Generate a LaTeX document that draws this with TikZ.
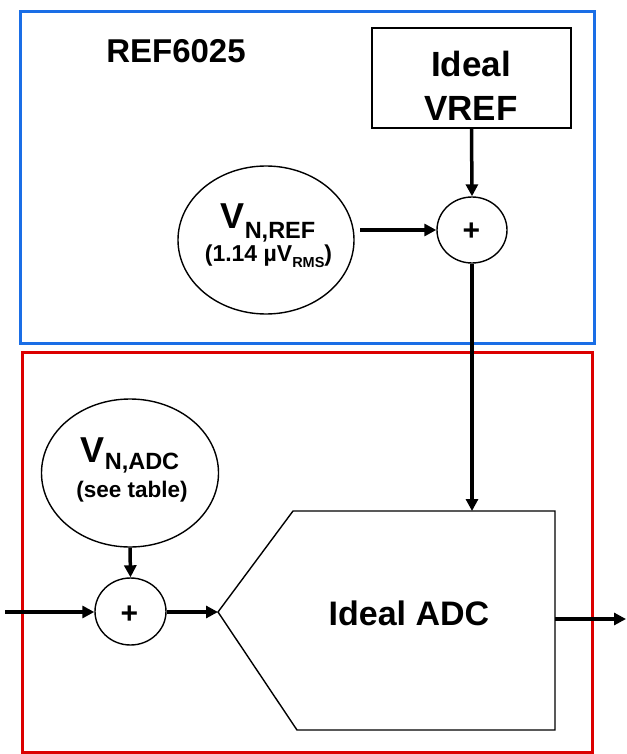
\documentclass[tikz,border=0pt]{standalone}
\usepackage{fontspec}
\setmainfont{Liberation Sans}
\usetikzlibrary{arrows.meta,shapes.geometric}
\definecolor{refblue}{RGB}{26,110,230}
\definecolor{adcred}{RGB}{220,0,0}
\tikzset{
  x=1pt,y=-1pt,
  thinline/.style={draw=black,line width=1.4pt},
  sig/.style={line width=3.5pt,-{Triangle[length=12pt,width=12pt]}},
  lbl/.style={inner sep=0pt,align=center,anchor=base},
}
\newcommand{\fs}[1]{\fontsize{#1}{#1}\bfseries\selectfont}
\begin{document}
\begin{tikzpicture}
\useasboundingbox (0,0) rectangle (626,754);
% group boxes
\draw[refblue,line width=3pt] (20,12) rectangle (594,343);
\draw[adcred,line width=3pt] (22,352) rectangle (592,752);
\node[lbl,font=\fs{33}] (title) at (176,63) {REF6025};
% ideal vref
\node[thinline,minimum width=199pt,minimum height=100pt,inner sep=0pt] (vref) at (471.5,78) {};
\node[lbl,font=\fs{35}] (vref1) at (471,77) {Ideal};
\node[lbl,font=\fs{35}] (vref2) at (471,121) {VREF};
% noise ref
\node[thinline,ellipse,minimum width=176pt,minimum height=148pt,inner sep=0pt] (nref) at (266,240) {};
\node[lbl] (nreft) at (268,228) {\fs{36}V\raisebox{-10pt}{\fs{23.5}N,REF}};
\node[lbl] (nrefs) at (268.5,261) {\fs{23}(1.14 µV\raisebox{-6pt}{\fs{14.5}RMS})};
% sum ref
\node[thinline,ellipse,minimum width=70pt,minimum height=66pt,inner sep=0pt] (sumr) at (472,230) {};
\node[inner sep=0pt,font=\fs{30}] (sumrp) at (471.5,232) {+};
% noise adc
\node[thinline,ellipse,minimum width=177pt,minimum height=148pt,inner sep=0pt] (nadc) at (130,473) {};
\node[lbl] (nadct) at (130,462) {\fs{36}V\raisebox{-7pt}{\fs{23.5}N,ADC}};
\node[lbl] (nadcs) at (132,497) {\fs{22.5}(see table)};
% sum adc
\node[thinline,ellipse,minimum width=71pt,minimum height=67pt,inner sep=0pt] (suma) at (130.5,611.5) {};
\node[inner sep=0pt,font=\fs{30}] (sumap) at (129.5,614.5) {+};
% ADC
\coordinate (tip) at (218,612);
\coordinate (adctop) at (472,511);
\coordinate (adcout) at (555,619);
\draw[line width=1.4pt,line join=miter] (tip) -- (293,511) -- (555,511) -- (555,730) -- (297,730) -- cycle;
\node[lbl,font=\fs{34}] (adc) at (409,625) {Ideal ADC};
% connectors
\coordinate (nrefout) at (360,230);
\coordinate (in) at (5,612);
\coordinate (out) at (626,619);
\draw[sig] (vref.south) -- (sumr.north);
\draw[sig] (nrefout) -- (sumr.west);
\draw[sig] (sumr.south) -- (adctop);
\draw[sig] (nadc.south) -- (suma.north);
\draw[sig] (in) -- (in -| suma.west);
\draw[sig] (suma.east |- tip) -- (tip);
\draw[sig] (adcout) -- (out);
\end{tikzpicture}
\end{document}
